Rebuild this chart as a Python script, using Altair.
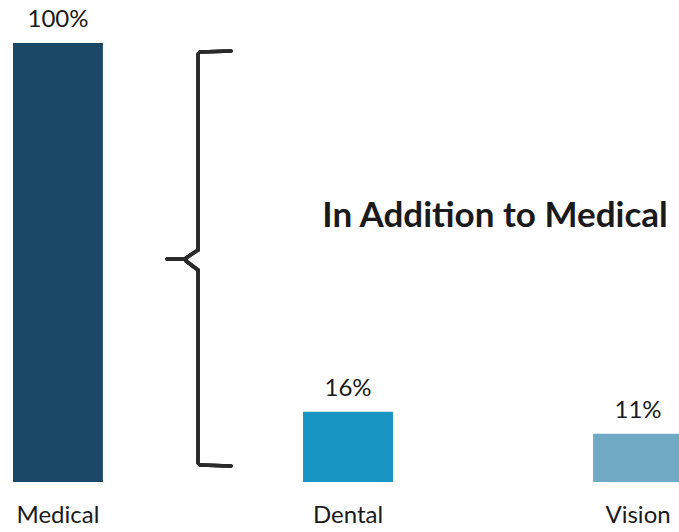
import altair as alt
import pandas as pd

# Share of enrollees by coverage type
categories = ["Medical", "Dental", "Vision"]
shares = [100, 16, 11]
labels = ["100%", "16%", "11%"]
bar_colors = ["#1c4868", "#1995c3", "#70a9c3"]

df = pd.DataFrame({"category": categories, "share": shares, "label": labels})

FONT = "Lato"
TEXT_COLOR = "#1a1a1a"

x_enc = alt.X(
    "category:N",
    sort=categories,
    axis=None,
    scale=alt.Scale(range=[13, 683], paddingInner=0.69, paddingOuter=0),
)
y_scale = alt.Scale(domain=[0, 100], range=[482, 43])

base = alt.Chart(df)

bars = base.mark_bar().encode(
    x=x_enc,
    y=alt.Y("share:Q", scale=y_scale, axis=None),
    color=alt.Color("category:N", scale=alt.Scale(domain=categories, range=bar_colors), legend=None),
)

values = base.mark_text(
    font=FONT, fontSize=24, color=TEXT_COLOR, baseline="alphabetic", dy=-16
).encode(
    x=x_enc,
    y=alt.Y("share:Q", scale=y_scale, axis=None),
    text="label:N",
)

names = base.mark_text(
    font=FONT, fontSize=24, color=TEXT_COLOR, baseline="alphabetic"
).encode(
    x=x_enc,
    y=alt.value(523),
    text="category:N",
)

# Curly brace grouping the add-on coverages
brace_color = "#2a2a2a"
brace_style = dict(color=brace_color, strokeWidth=3.5, strokeCap="round")
brace = [
    base.mark_rule(**brace_style).encode(x=alt.value(198), x2=alt.value(198), y=alt.value(54), y2=alt.value(250)),
    base.mark_rule(**brace_style).encode(x=alt.value(198), x2=alt.value(198), y=alt.value(270), y2=alt.value(463)),
    base.mark_rule(**brace_style).encode(x=alt.value(200), x2=alt.value(231), y=alt.value(52), y2=alt.value(51)),
    base.mark_rule(**brace_style).encode(x=alt.value(200), x2=alt.value(231), y=alt.value(465), y2=alt.value(466)),
    base.mark_rule(**brace_style).encode(x=alt.value(198), x2=alt.value(186), y=alt.value(250), y2=alt.value(258)),
    base.mark_rule(**brace_style).encode(x=alt.value(198), x2=alt.value(186), y=alt.value(270), y2=alt.value(261)),
    base.mark_rule(**brace_style).encode(x=alt.value(186), x2=alt.value(167), y=alt.value(259), y2=alt.value(259)),
]

heading = alt.Chart(pd.DataFrame({"t": ["In Addition to Medical"]})).mark_text(
    font=FONT, fontSize=35, fontWeight="bold", color=TEXT_COLOR, baseline="alphabetic", align="center"
).encode(
    x=alt.value(495),
    y=alt.value(227),
    text="t:N",
)

chart = alt.layer(bars, values, names, *brace, heading).properties(
    width=679,
    height=532,
    padding=0,
    autosize=alt.AutoSizeParams(type="none"),
    background="white",
).configure_view(stroke=None)

chart.save("out.html", embed_options={"renderer": "svg", "actions": False})
